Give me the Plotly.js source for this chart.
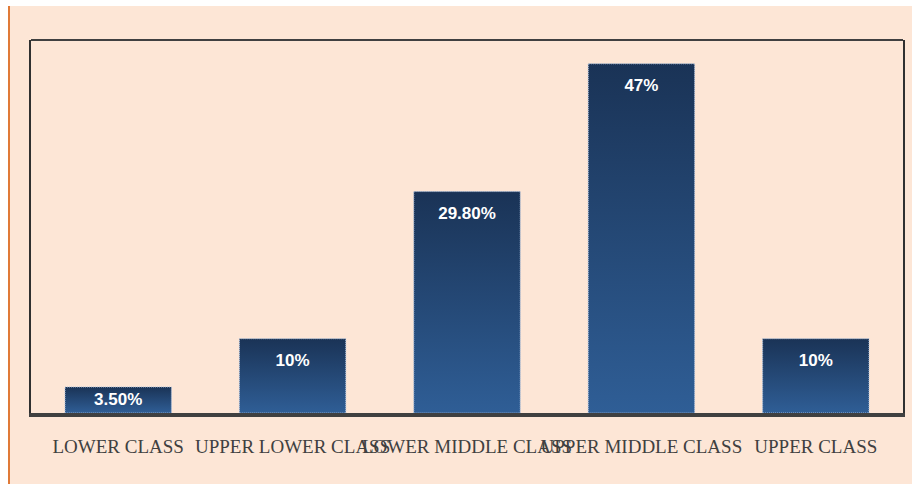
<!DOCTYPE html>
<html>
<head>
<meta charset="utf-8">
<script src="https://cdn.plot.ly/plotly-3.0.1.min.js"></script>
<style>
  html, body { margin: 0; padding: 0; background: #ffffff; width: 912px; height: 484px; overflow: hidden; }
  #chart { position: absolute; left: 8px; top: 6px; width: 904px; height: 478px; box-sizing: border-box; border-left: 2px solid #E07A38; }
</style>
</head>
<body>
<div id="chart"></div>
<script>
const categories = ["LOWER CLASS", "UPPER LOWER CLASS", "LOWER MIDDLE CLASS", "UPPER MIDDLE CLASS", "UPPER CLASS"];
const values = [3.5, 10, 29.8, 47, 10];
const valueLabels = ["3.50%", "10%", "29.80%", "47%", "10%"];

const trace = {
  type: "bar",
  x: categories,
  y: values,
  text: valueLabels,
  textposition: "inside",
  insidetextanchor: "end",
  textangle: 0,
  constraintext: "none",
  textfont: { family: "Liberation Sans", size: 17, color: "#ffffff", weight: "bold" },
  marker: { color: "#2a5287", line: { color: "#a9bfdc", width: 1 } },
  hoverinfo: "none"
};

const layout = {
  width: 902,
  height: 478,
  margin: { l: 21, r: 9, t: 34, b: 71 },
  paper_bgcolor: "#FDE6D6",
  plot_bgcolor: "#FDE6D6",
  bargap: 0.39,
  showlegend: false,
  font: { family: "Liberation Serif", color: "#404040" },
  xaxis: {
    type: "category",
    tickangle: 0,
    showline: true,
    linewidth: 4,
    linecolor: "#404040",
    showgrid: false,
    zeroline: false,
    ticks: "",
    tickfont: { family: "Liberation Serif", size: 19, color: "#404040" },
    ticklabelstandoff: 13
  },
  yaxis: {
    range: [0, 50.2],
    showline: true,
    linewidth: 2,
    linecolor: "#303030",
    mirror: true,
    showgrid: false,
    zeroline: false,
    showticklabels: false,
    ticks: "",
    fixedrange: true
  },
  shapes: [
    { type: "line", xref: "paper", yref: "paper", x0: 0, x1: 1, y0: 1, y1: 1, line: { color: "#404040", width: 2 } }
  ]
};

Plotly.newPlot("chart", [trace], layout, { displayModeBar: false, staticPlot: true }).then(function (gd) {
  const svg = gd.querySelector("svg.main-svg");
  const ns = "http://www.w3.org/2000/svg";
  let defs = svg.querySelector("defs");
  if (!defs) { defs = document.createElementNS(ns, "defs"); svg.insertBefore(defs, svg.firstChild); }
  const grad = document.createElementNS(ns, "linearGradient");
  grad.setAttribute("id", "barGrad");
  grad.setAttribute("x1", "0"); grad.setAttribute("y1", "0");
  grad.setAttribute("x2", "0"); grad.setAttribute("y2", "1");
  const s1 = document.createElementNS(ns, "stop");
  s1.setAttribute("offset", "0"); s1.setAttribute("stop-color", "#1A3356");
  const s2 = document.createElementNS(ns, "stop");
  s2.setAttribute("offset", "1"); s2.setAttribute("stop-color", "#2F5E96");
  grad.appendChild(s1); grad.appendChild(s2);
  defs.appendChild(grad);
  const points = gd.querySelectorAll(".barlayer .point");
  points.forEach(function (pt) {
    const path = pt.querySelector("path");
    if (path) {
      path.style.fill = "url(#barGrad)";
      path.style.strokeDasharray = "1,1";
      const bb = path.getBBox();
      const txt = pt.querySelector("text");
      if (txt && bb.height > 50) {
        const tr = txt.getAttribute("transform") || "";
        txt.setAttribute("transform", "translate(0,9) " + tr);
      }
    }
  });
});
</script>
</body>
</html>
